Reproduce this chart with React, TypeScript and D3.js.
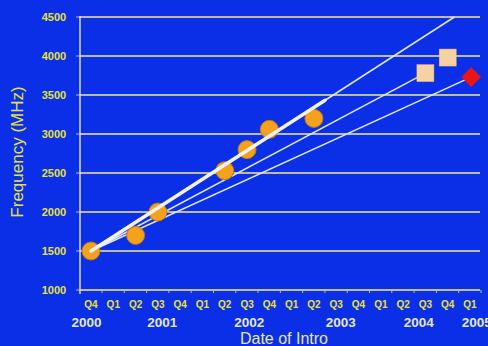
import React from "react";
import * as d3 from "d3";

const W = 488;
const H = 346;

// quarter tick labels, Q4 2000 .. Q1 2005
const quarterLabels = ["Q4","Q1","Q2","Q3","Q4","Q1","Q2","Q3","Q4","Q1","Q2","Q3","Q4","Q1","Q2","Q3","Q4","Q1"];
const yearLabels = ["2000", "2001", "2002", "2003", "2004", "2005"];
const yearPos = [-0.2, 3.2, 7.1, 11.2, 14.7, 17.3]; // in quarter units
const yTicks = [1000, 1500, 2000, 2500, 3000, 3500, 4000, 4500];

// introduced processors: quarter index (0 = Q4 2000), MHz
const introQ = [0, 2, 3, 6, 7, 8, 10];
const introMHz = [1500, 1700, 2000, 2530, 2800, 3060, 3200];
// planned (squares)
const planQ = [15, 16];
const planMHz = [3780, 3980];
// planned (diamond)
const diamondQ = [17.05];
const diamondMHz = [3730];
// trend lines from first point
const trendEndQ = [16.3, 15, 17.05];
const trendEndMHz = [4500, 3780, 3730];
const trendStartQ = 0;
const trendStartMHz = 1500;

export default function App() {
  const x = d3.scaleLinear().domain([0, 17]).range([91, 470]);
  const y = d3.scaleLinear().domain([1000, 4500]).range([290, 17]);
  const left = 80;
  const right = 480;
  const blue = "#0b2fe6";
  const grid = "#bcbc98";

  const line = d3.line<[number, number]>().x(d => x(d[0])).y(d => y(d[1]));

  // thick section of the top trend
  const t = 10.5 / trendEndQ[0];
  const thickEnd: [number, number] = [trendStartQ + (trendEndQ[0] - trendStartQ) * t, trendStartMHz + (trendEndMHz[0] - trendStartMHz) * t];

  return (
    <svg width={W} height={H} style={{ position: "absolute", left: 0, top: 0, display: "block" }}>
      <rect width={W} height={H} fill={blue} />
      {yTicks.map(v => (
        <g key={v}>
          <line x1={left} x2={right} y1={y(v)} y2={y(v)} stroke={grid} strokeWidth={2} />
          <line x1={left - 4} x2={left} y1={y(v)} y2={y(v)} stroke={grid} strokeWidth={1} />
          <text x={54} y={y(v) + 4} textAnchor="middle" fontFamily="Liberation Sans, Arial, sans-serif" fontWeight="bold" fontSize={11} fill="#e6e23a">{v}</text>
        </g>
      ))}
      <line x1={left} x2={left} y1={y(4500) - 1} y2={y(1000) + 4} stroke="#d6dcf2" strokeWidth={1.5} />
      {quarterLabels.map((q, i) => (
        <g key={i}>
          <line x1={x(i) + 11} x2={x(i) + 11} y1={y(1000)} y2={y(1000) + 3} stroke={grid} strokeWidth={1} />
          <text x={x(i)} y={307.5} textAnchor="middle" fontFamily="Liberation Sans, Arial, sans-serif" fontWeight="bold" fontSize={10} fill="#e6e23a">{q}</text>
        </g>
      ))}
      {yearLabels.map((yl, i) => (
        <text key={yl} x={x(yearPos[i])} y={327} textAnchor="middle" fontFamily="Liberation Sans, Arial, sans-serif" fontWeight="bold" fontSize={13.5} fill="#e4e6d0">{yl}</text>
      ))}
      <text x={284} y={344} textAnchor="middle" fontFamily="Liberation Sans, Arial, sans-serif" fontSize={16} fill="#e6e6a6">Date of Intro</text>
      <text transform={`translate(23,152) rotate(-90)`} textAnchor="middle" fontFamily="Liberation Sans, Arial, sans-serif" fontSize={17} fill="#e6e23a">Frequency (MHz)</text>

      {trendEndQ.map((q, i) => (
        <path key={i} d={line([[trendStartQ, trendStartMHz], [q, trendEndMHz[i]]]) || ""} stroke="#dfe6f2" strokeWidth={1.5} fill="none" />
      ))}
      {introQ.map((q, i) => (
        <circle key={i} cx={x(q)} cy={y(introMHz[i])} r={9} fill="#f4a21e" stroke="#c07a14" strokeWidth={1} />
      ))}
      <path d={line([[trendStartQ, trendStartMHz], thickEnd]) || ""} stroke="#f4f2ee" strokeWidth={3.5} fill="none" strokeLinecap="round" />
      {planQ.map((q, i) => (
        <rect key={i} x={x(q) - 8.5} y={y(planMHz[i]) - 8.5} width={17} height={17} fill="#f6d2a2" stroke="#e8b880" strokeWidth={0.5} />
      ))}
      {diamondQ.map((q, i) => (
        <rect key={i} x={-7} y={-7} width={14} height={14} fill="#ec1414" transform={`translate(${x(q)},${y(diamondMHz[i])}) rotate(45)`} />
      ))}
    </svg>
  );
}
